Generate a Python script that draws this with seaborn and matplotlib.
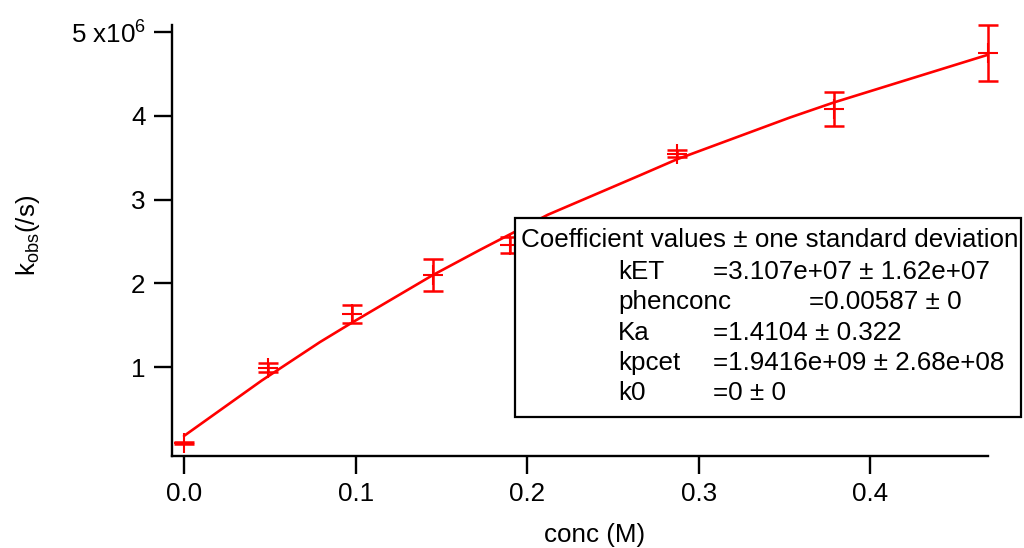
import matplotlib
matplotlib.use("Agg")
import matplotlib.pyplot as plt
from matplotlib.patches import Rectangle
from matplotlib.ticker import FixedLocator, FixedFormatter
import seaborn as sns
import pandas as pd

# Measured rate constants with their standard deviations
conc = [0.0, 0.0491, 0.0977, 0.145, 0.190, 0.287, 0.3786, 0.4685]
kobs = [0.092e6, 0.994e6, 1.635e6, 2.10e6, 2.46e6, 3.55e6, 4.08e6, 4.75e6]
kobs_err = [0.01e6, 0.055e6, 0.105e6, 0.19e6, 0.10e6, 0.045e6, 0.20e6, 0.336e6]

# Fitted curve
fit_conc = [0.0, 0.0452, 0.0792, 0.0977, 0.145, 0.1724, 0.212, 0.2656, 0.287, 0.353, 0.3786, 0.4685]
fit_kobs = [0.18e6, 0.84e6, 1.30e6, 1.53e6, 2.10e6, 2.40e6, 2.82e6, 3.29e6, 3.48e6, 3.98e6, 4.16e6, 4.73e6]

# Fit coefficient table
coef_header = "Coefficient values \u00b1 one standard deviation"
coef_names = ["kET", "phenconc", "Ka", "kpcet", "k0"]
coef_values = ["=3.107e+07 \u00b1 1.62e+07", "=0.00587 \u00b1 0", "=1.4104 \u00b1 0.322",
               "=1.9416e+09 \u00b1 2.68e+08", "=0 \u00b1 0"]

x_ticks = [0.0, 0.1, 0.2, 0.3, 0.4]
x_tick_labels = ["0.0", "0.1", "0.2", "0.3", "0.4"]
y_ticks = [1e6, 2e6, 3e6, 4e6, 5e6]
y_tick_labels = ["1", "2", "3", "4", "5 x10$^{\\mathregular{6}}$"]

sns.set_style("ticks")
plt.rcParams["font.family"] = ["Liberation Sans", "DejaVu Sans"]
plt.rcParams["mathtext.default"] = "regular"
plt.rcParams["text.color"] = "black"
plt.rcParams["axes.labelcolor"] = "black"

RED = "#ff0000"
FS = 18.7
W, H = 1024, 548
fig = plt.figure(figsize=(W / 100, H / 100), dpi=100)
ax = fig.add_axes([172 / W, 1 - 455.7 / H, (988 - 172) / W, (455.7 - 25) / H])

pts = pd.DataFrame({"conc": conc, "kobs": kobs})
fit = pd.DataFrame({"conc": fit_conc, "kobs": fit_kobs})

sns.lineplot(data=fit, x="conc", y="kobs", color=RED, lw=1.9, ax=ax, sort=True, zorder=3)
eb = ax.errorbar(conc, kobs, yerr=kobs_err, fmt="none", ecolor=RED, elinewidth=1.8,
                 capsize=7.5, capthick=1.8, zorder=4)
for art in eb.lines[1] + eb.lines[2]:
    art.set_clip_on(False)
sns.scatterplot(data=pts, x="conc", y="kobs", marker="+", s=190, color=RED,
                linewidth=1.5, ax=ax, zorder=5, clip_on=False)

ax.set_xlim(-0.007, 0.4685)
ax.set_ylim(-0.056e6, 5.085e6)
ax.xaxis.set_major_locator(FixedLocator(x_ticks))
ax.xaxis.set_major_formatter(FixedFormatter(x_tick_labels))
ax.yaxis.set_major_locator(FixedLocator(y_ticks))
ax.yaxis.set_major_formatter(FixedFormatter(y_tick_labels))
ax.minorticks_off()

sns.despine(ax=ax)
for s in ("left", "bottom"):
    ax.spines[s].set_linewidth(1.7)
    ax.spines[s].set_color("black")
ax.tick_params(direction="out", length=13, width=1.7, labelsize=FS, pad=6,
               colors="black", labelcolor="black")

ax.set_xlabel("conc (M)", fontsize=FS, color="black")
ax.xaxis.set_label_coords(0.518, -0.184)
ax.xaxis.label.set_va("center")
ax.set_ylabel("k$_{\\mathregular{obs}}$(/s)", fontsize=FS, color="black")
ax.yaxis.set_label_coords(-0.176, 0.512)
ax.yaxis.label.set_va("center")

# Coefficient box in figure pixels
def fx(px):
    return px / W

def fy(py):
    return 1 - py / H

box = Rectangle((fx(515), fy(416.7)), fx(1021) - fx(515), fy(218) - fy(416.7),
                transform=fig.transFigure, facecolor="white", edgecolor="black",
                linewidth=1.6, clip_on=False, zorder=10)
ax.add_patch(box)

ax.text(fx(521), fy(240), coef_header, transform=fig.transFigure, fontsize=FS,
        va="center", ha="left", zorder=11, color="black")
row_y = [271.7, 302, 333, 363, 393]
value_x = [713, 809, 713, 713, 713]
for name, val, yy, vx in zip(coef_names, coef_values, row_y, value_x):
    ax.text(fx(618), fy(yy), name, transform=fig.transFigure, fontsize=FS,
            va="center", ha="left", zorder=11, color="black")
    ax.text(fx(vx), fy(yy), val, transform=fig.transFigure, fontsize=FS,
            va="center", ha="left", zorder=11, color="black")

fig.savefig("out.png", dpi=100)
